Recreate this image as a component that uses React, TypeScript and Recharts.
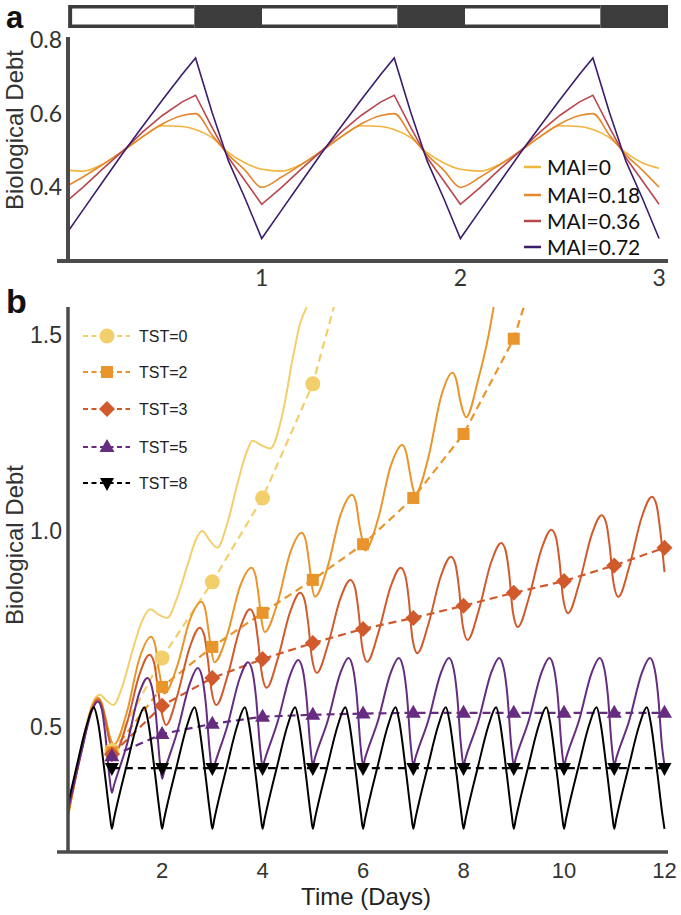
import React from "react";
import { BarChart, Bar, ComposedChart, LineChart, Line, XAxis, YAxis } from "recharts";

type Pt = [number, number];
type Shape = "circle" | "square" | "diamond" | "up" | "down";

// ---- panel a: three days of biological debt for four MAI values ----
const timeA = [
  0.025, 0.1, 0.2, 0.3, 0.4, 0.5, 0.6, 0.667, 0.75, 0.833, 0.917,
  1, 1.1, 1.2, 1.3, 1.4, 1.5, 1.6, 1.667, 1.75, 1.833, 1.917,
  2, 2.1, 2.2, 2.3, 2.4, 2.5, 2.6, 2.667, 2.75, 2.833, 2.917, 3,
];
const mai0 = [
  0.446, 0.444, 0.463, 0.498, 0.537, 0.567, 0.565, 0.557, 0.535, 0.494, 0.466,
  0.449, 0.444, 0.463, 0.498, 0.537, 0.567, 0.565, 0.557, 0.535, 0.494, 0.466,
  0.449, 0.444, 0.463, 0.498, 0.537, 0.567, 0.565, 0.557, 0.535, 0.494, 0.466, 0.452,
];
const mai018 = [
  0.405, 0.428, 0.462, 0.498, 0.537, 0.572, 0.595, 0.6, 0.542, 0.488, 0.446,
  0.4, 0.428, 0.462, 0.498, 0.537, 0.572, 0.595, 0.6, 0.542, 0.488, 0.446,
  0.4, 0.428, 0.462, 0.498, 0.537, 0.572, 0.595, 0.6, 0.542, 0.488, 0.446, 0.4,
];
const mai036 = [
  0.365, 0.4, 0.45, 0.498, 0.55, 0.595, 0.632, 0.65, 0.563, 0.48, 0.417,
  0.354, 0.4, 0.45, 0.498, 0.55, 0.595, 0.632, 0.65, 0.563, 0.48, 0.417,
  0.354, 0.4, 0.45, 0.498, 0.55, 0.595, 0.632, 0.65, 0.563, 0.48, 0.417, 0.354,
];
const mai072 = [
  0.28, 0.338, 0.415, 0.492, 0.565, 0.637, 0.707, 0.751, 0.604, 0.471, 0.369,
  0.261, 0.338, 0.415, 0.492, 0.565, 0.637, 0.707, 0.751, 0.604, 0.471, 0.369,
  0.261, 0.338, 0.415, 0.492, 0.565, 0.637, 0.707, 0.751, 0.604, 0.471, 0.369, 0.261,
];
const maiNames = ["MAI=0", "MAI=0.18", "MAI=0.36", "MAI=0.72"];
const maiColors = ["#F0B53F", "#E4882B", "#B9474E", "#3A1E6C"];

// light / dark bar above panel a: segment kinds and lengths (days)
const barKinds = ["pad", "light", "dark", "light", "dark", "light", "dark"];
const barLengths = [0.045, 0.622, 0.333, 0.667, 0.333, 0.667, 0.333];

// ---- panel b: solid model traces ----
const tst0Solid: Pt[] = [
  [0.13, 0.27], [0.4, 0.45], [0.6, 0.555], [0.76, 0.582], [0.9, 0.566], [1.03, 0.556],
  [1.2, 0.6], [1.4, 0.69], [1.6, 0.77], [1.76, 0.8], [1.95, 0.785], [2.1, 0.778],
  [2.3, 0.83], [2.5, 0.91], [2.68, 0.98], [2.8, 1.0], [2.95, 0.975], [3.1, 0.957],
  [3.3, 1.02], [3.5, 1.12], [3.68, 1.2], [3.8, 1.23], [3.98, 1.218], [4.15, 1.21],
  [4.4, 1.3], [4.6, 1.44], [4.75, 1.53], [4.88, 1.571],
];
const tst2Solid: Pt[] = [
  [0.13, 0.275], [0.4, 0.445], [0.6, 0.55], [0.72, 0.575], [0.8, 0.56], [0.88, 0.52], [0.96, 0.475], [1.04, 0.455],
  [1.3, 0.538], [1.55, 0.675], [1.78, 0.73], [1.86, 0.71], [1.93, 0.65], [1.98, 0.615], [2.04, 0.585],
  [2.3, 0.655], [2.55, 0.772], [2.78, 0.819], [2.86, 0.799], [2.93, 0.739], [2.98, 0.695], [3.04, 0.665],
  [3.3, 0.737], [3.55, 0.858], [3.78, 0.906], [3.86, 0.886], [3.93, 0.826], [3.98, 0.772], [4.04, 0.742],
  [4.3, 0.818], [4.55, 0.944], [4.78, 0.995], [4.86, 0.975], [4.93, 0.915], [4.98, 0.862], [5.04, 0.832],
  [5.3, 0.91], [5.55, 1.04], [5.78, 1.092], [5.86, 1.072], [5.93, 1.012], [5.98, 0.98], [6.04, 0.95],
  [6.3, 1.031], [6.55, 1.165], [6.78, 1.219], [6.86, 1.199], [6.93, 1.15], [6.98, 1.115], [7.04, 1.095],
  [7.3, 1.187], [7.55, 1.341], [7.78, 1.403], [7.86, 1.383], [7.93, 1.335], [7.99, 1.305], [8.05, 1.29],
  [8.3, 1.39], [8.5, 1.5], [8.6, 1.571],
];
const tst3Solid: Pt[] = [
  [0.13, 0.28], [0.4, 0.44], [0.6, 0.545], [0.72, 0.57], [0.8, 0.555], [0.88, 0.51], [0.96, 0.46], [1.06, 0.435],
  [1.3, 0.51], [1.55, 0.634], [1.75, 0.684], [1.84, 0.664], [1.91, 0.604], [1.98, 0.545], [2.08, 0.505],
  [2.3, 0.579], [2.55, 0.703], [2.75, 0.753], [2.84, 0.733], [2.91, 0.673], [2.98, 0.596], [3.08, 0.556],
  [3.3, 0.629], [3.55, 0.751], [3.75, 0.8], [3.84, 0.78], [3.91, 0.72], [3.98, 0.64], [4.08, 0.6],
  [4.3, 0.673], [4.55, 0.794], [4.75, 0.842], [4.84, 0.822], [4.91, 0.762], [4.98, 0.678], [5.08, 0.638],
  [5.3, 0.709], [5.55, 0.828], [5.75, 0.875], [5.84, 0.855], [5.91, 0.795], [5.98, 0.706], [6.08, 0.666],
  [6.3, 0.738], [6.55, 0.858], [6.75, 0.906], [6.84, 0.886], [6.91, 0.826], [6.98, 0.728], [7.08, 0.688],
  [7.3, 0.762], [7.55, 0.885], [7.75, 0.934], [7.84, 0.914], [7.91, 0.854], [7.98, 0.762], [8.08, 0.722],
  [8.3, 0.796], [8.55, 0.92], [8.75, 0.969], [8.84, 0.949], [8.91, 0.889], [8.98, 0.795], [9.08, 0.755],
  [9.3, 0.829], [9.55, 0.953], [9.75, 1.003], [9.84, 0.983], [9.91, 0.923], [9.98, 0.83], [10.08, 0.79],
  [10.3, 0.865], [10.55, 0.99], [10.75, 1.04], [10.84, 1.02], [10.91, 0.96], [10.98, 0.872], [11.08, 0.832],
  [11.3, 0.909], [11.55, 1.036], [11.75, 1.087], [11.84, 1.067], [11.91, 1.007], [12, 0.895],
];
const tst5Solid: Pt[] = [
  [0.13, 0.29], [0.4, 0.44], [0.6, 0.54], [0.72, 0.565], [0.8, 0.545], [0.87, 0.48], [0.95, 0.375], [1, 0.332],
  [1.04, 0.35], [1.3, 0.455], [1.55, 0.588], [1.71, 0.625], [1.8, 0.6], [1.87, 0.54], [1.95, 0.418], [2, 0.368],
  [2.04, 0.385], [2.3, 0.487], [2.55, 0.61], [2.71, 0.65], [2.8, 0.625], [2.87, 0.56], [2.95, 0.435], [3, 0.385],
  [3.04, 0.402], [3.3, 0.503], [3.55, 0.626], [3.71, 0.665], [3.8, 0.64], [3.87, 0.575], [3.95, 0.448], [4, 0.398],
  [4.04, 0.415], [4.3, 0.513], [4.55, 0.633], [4.71, 0.671], [4.8, 0.646], [4.87, 0.58], [4.95, 0.452], [5, 0.402],
  [5.04, 0.42], [5.3, 0.517], [5.55, 0.638], [5.71, 0.676], [5.8, 0.65], [5.87, 0.585], [5.95, 0.452], [6, 0.402],
  [6.04, 0.42], [6.3, 0.517], [6.55, 0.638], [6.71, 0.676], [6.8, 0.65], [6.87, 0.585], [6.95, 0.452], [7, 0.402],
  [7.04, 0.42], [7.3, 0.517], [7.55, 0.638], [7.71, 0.676], [7.8, 0.65], [7.87, 0.585], [7.95, 0.452], [8, 0.402],
  [8.04, 0.42], [8.3, 0.517], [8.55, 0.638], [8.71, 0.676], [8.8, 0.65], [8.87, 0.585], [8.95, 0.452], [9, 0.402],
  [9.04, 0.42], [9.3, 0.517], [9.55, 0.638], [9.71, 0.676], [9.8, 0.65], [9.87, 0.585], [9.95, 0.452], [10, 0.402],
  [10.04, 0.42], [10.3, 0.517], [10.55, 0.638], [10.71, 0.676], [10.8, 0.65], [10.87, 0.585], [10.95, 0.452], [11, 0.402],
  [11.04, 0.42], [11.3, 0.517], [11.55, 0.638], [11.71, 0.676], [11.8, 0.65], [11.87, 0.585], [11.95, 0.452], [12, 0.402],
];
const tst8Solid: Pt[] = [
  [0.13, 0.305], [0.3, 0.4], [0.5, 0.505], [0.64, 0.55], [0.72, 0.515], [0.86, 0.38], [0.96, 0.275],
  [1, 0.24], [1.04, 0.265], [1.3, 0.405], [1.5, 0.505], [1.65, 0.55], [1.72, 0.515], [1.86, 0.38], [1.96, 0.275],
  [2, 0.24], [2.04, 0.265], [2.3, 0.405], [2.5, 0.505], [2.65, 0.55], [2.72, 0.515], [2.86, 0.38], [2.96, 0.275],
  [3, 0.24], [3.04, 0.265], [3.3, 0.405], [3.5, 0.505], [3.65, 0.55], [3.72, 0.515], [3.86, 0.38], [3.96, 0.275],
  [4, 0.24], [4.04, 0.265], [4.3, 0.405], [4.5, 0.505], [4.65, 0.55], [4.72, 0.515], [4.86, 0.38], [4.96, 0.275],
  [5, 0.24], [5.04, 0.265], [5.3, 0.405], [5.5, 0.505], [5.65, 0.55], [5.72, 0.515], [5.86, 0.38], [5.96, 0.275],
  [6, 0.24], [6.04, 0.265], [6.3, 0.405], [6.5, 0.505], [6.65, 0.55], [6.72, 0.515], [6.86, 0.38], [6.96, 0.275],
  [7, 0.24], [7.04, 0.265], [7.3, 0.405], [7.5, 0.505], [7.65, 0.55], [7.72, 0.515], [7.86, 0.38], [7.96, 0.275],
  [8, 0.24], [8.04, 0.265], [8.3, 0.405], [8.5, 0.505], [8.65, 0.55], [8.72, 0.515], [8.86, 0.38], [8.96, 0.275],
  [9, 0.24], [9.04, 0.265], [9.3, 0.405], [9.5, 0.505], [9.65, 0.55], [9.72, 0.515], [9.86, 0.38], [9.96, 0.275],
  [10, 0.24], [10.04, 0.265], [10.3, 0.405], [10.5, 0.505], [10.65, 0.55], [10.72, 0.515], [10.86, 0.38], [10.96, 0.275],
  [11, 0.24], [11.04, 0.265], [11.3, 0.405], [11.5, 0.505], [11.65, 0.55], [11.72, 0.515], [11.86, 0.38], [11.96, 0.275],
  [12, 0.24],
];

// ---- panel b: dashed daily values (markers on whole days) ----
const tst0Days = [1, 2, 3, 4, 5, 5.42];
const tst0Mean = [0.44, 0.676, 0.87, 1.084, 1.375, 1.571];
const tst2Days = [1, 2, 3, 4, 5, 6, 7, 8, 9, 9.2];
const tst2Mean = [0.435, 0.602, 0.704, 0.791, 0.875, 0.966, 1.084, 1.247, 1.49, 1.571];
const tst3Days = [1, 2, 3, 4, 5, 6, 7, 8, 9, 10, 11, 12];
const tst3Mean = [0.43, 0.554, 0.625, 0.673, 0.714, 0.75, 0.778, 0.809, 0.842, 0.872, 0.912, 0.957];
const tst5Days = [1, 2, 3, 4, 5, 6, 7, 8, 9, 10, 11, 12];
const tst5Mean = [0.425, 0.482, 0.508, 0.526, 0.531, 0.534, 0.536, 0.536, 0.536, 0.536, 0.536, 0.536];
const tst8Days = [1, 2, 3, 4, 5, 6, 7, 8, 9, 10, 11, 12];
const tst8Mean = [0.395, 0.395, 0.395, 0.395, 0.395, 0.395, 0.395, 0.395, 0.395, 0.395, 0.395, 0.395];

const AXIS = "#4b4b4b";
const BAR_DARK = "#3c3c3c";
const SANS = "'Liberation Sans', Arial, sans-serif";
const GILL = "Lato, 'Noto Sans', sans-serif";

function Marker({ shape, x, y, color }: { shape: Shape; x: number; y: number; color: string }) {
  if (shape === "circle") return <circle cx={x} cy={y} r={7.5} fill={color} />;
  if (shape === "square") return <rect x={x - 6} y={y - 6} width={12} height={12} fill={color} />;
  if (shape === "diamond")
    return <polygon points={`${x},${y - 8} ${x + 8},${y} ${x},${y + 8} ${x - 8},${y}`} fill={color} />;
  if (shape === "up")
    return <polygon points={`${x},${y - 8} ${x + 7.5},${y + 5} ${x - 7.5},${y + 5}`} fill={color} />;
  return <polygon points={`${x},${y + 8} ${x + 7},${y - 5} ${x - 7},${y - 5}`} fill={color} />;
}

const seriesB = [
  { name: "TST=0", color: "#F3CF6C", shape: "circle" as Shape, solid: tst0Solid, days: tst0Days, mean: tst0Mean },
  { name: "TST=2", color: "#E9952B", shape: "square" as Shape, solid: tst2Solid, days: tst2Days, mean: tst2Mean },
  { name: "TST=3", color: "#D05A2C", shape: "diamond" as Shape, solid: tst3Solid, days: tst3Days, mean: tst3Mean },
  { name: "TST=5", color: "#652C80", shape: "up" as Shape, solid: tst5Solid, days: tst5Days, mean: tst5Mean },
  { name: "TST=8", color: "#000000", shape: "down" as Shape, solid: tst8Solid, days: tst8Days, mean: tst8Mean },
];

const dotFor = (shape: Shape, color: string) => (p: any) => {
  const key = `m-${p.index}`;
  if (!Number.isInteger(p.payload?.t)) return <g key={key} />;
  return <Marker key={key} shape={shape} x={p.cx} y={p.cy} color={color} />;
};

// light segments get a white inner box, dark ones stay solid
const segShape = (kind: string, first: boolean) => (p: any) => {
  const { x, y, width, height } = p;
  if (kind === "pad" || !width) return <g />;
  const inset = first ? 4 : 0;
  return (
    <g>
      <rect x={x} y={y} width={width} height={height} fill={BAR_DARK} />
      {kind === "light" && (
        <rect x={x + inset} y={y + 3.5} width={width - inset} height={height - 7} fill="#ffffff" />
      )}
    </g>
  );
};

export default function App() {
  const dataA = timeA.map((t, i) => ({ t, m0: mai0[i], m1: mai018[i], m2: mai036[i], m3: mai072[i] }));
  const barRow: Record<string, number | string> = { row: "LD" };
  barLengths.forEach((v, i) => {
    barRow[`s${i}`] = v;
  });
  const legendARows = [167, 195, 221, 247];
  const legendBRows = [336, 372, 409, 447, 483];

  return (
    <div style={{ position: "absolute", left: 0, top: 0, width: 681, height: 915, background: "#fff", overflow: "hidden" }}>
      {/* panel a */}
      <div style={{ position: "absolute", left: 0, top: 0 }}>
        <LineChart width={681} height={300} data={dataA} margin={{ top: 37, right: 13, bottom: 9, left: 8 }}>
          <XAxis
            dataKey="t"
            type="number"
            domain={[0.025, 3.045]}
            ticks={[1, 2, 3]}
            axisLine={{ stroke: AXIS, strokeWidth: 4 }}
            tickLine={false}
            tickSize={0}
            tickMargin={9}
            tick={{ fontSize: 23, fill: "#333", fontFamily: GILL }}
          />
          <YAxis
            type="number"
            domain={[0.2, 0.808]}
            ticks={[0.4, 0.6, 0.8]}
            tickFormatter={(v: number) => v.toFixed(1)}
            axisLine={{ stroke: AXIS, strokeWidth: 4 }}
            tickLine={false}
            tickSize={0}
            tickMargin={6}
            width={60}
            tick={{ fontSize: 23, fill: "#333", fontFamily: GILL }}
          />
          <Line dataKey="m0" type="monotone" stroke={maiColors[0]} strokeWidth={1.6} dot={false} isAnimationActive={false} />
          <Line dataKey="m1" type="monotone" stroke={maiColors[1]} strokeWidth={1.6} dot={false} isAnimationActive={false} />
          <Line dataKey="m2" type="linear" stroke={maiColors[2]} strokeWidth={1.6} dot={false} isAnimationActive={false} />
          <Line dataKey="m3" type="linear" stroke={maiColors[3]} strokeWidth={1.6} dot={false} isAnimationActive={false} />
        </LineChart>
      </div>

      {/* light / dark bar */}
      <div style={{ position: "absolute", left: 0, top: 0 }}>
        <BarChart
          layout="vertical"
          width={681}
          height={34}
          data={[barRow]}
          margin={{ top: 5, right: 13, bottom: 6, left: 59 }}
          barCategoryGap={0}
        >
          <XAxis type="number" domain={[0, 3]} height={0} tick={false} axisLine={false} tickLine={false} />
          <YAxis type="category" dataKey="row" width={0} tick={false} axisLine={false} tickLine={false} />
          {barKinds.map((k, i) => (
            <Bar key={i} dataKey={`s${i}`} stackId="ld" shape={segShape(k, i === 1)} isAnimationActive={false} />
          ))}
        </BarChart>
      </div>

      {/* panel b */}
      <div style={{ position: "absolute", left: 0, top: 300 }}>
        <ComposedChart width={681} height={615} margin={{ top: 7, right: 13, bottom: 33, left: 8 }}>
          <XAxis
            dataKey="t"
            type="number"
            domain={[0.127, 12.07]}
            ticks={[2, 4, 6, 8, 10, 12]}
            axisLine={{ stroke: AXIS, strokeWidth: 3.5 }}
            tickLine={false}
            tickSize={0}
            tickMargin={10}
            tick={{ fontSize: 22, fill: "#333", fontFamily: SANS }}
          />
          <YAxis
            type="number"
            domain={[0.181, 1.571]}
            ticks={[0.5, 1.0, 1.5]}
            tickFormatter={(v: number) => v.toFixed(1)}
            axisLine={{ stroke: AXIS, strokeWidth: 3.5 }}
            tickLine={false}
            tickSize={0}
            tickMargin={6}
            width={60}
            tick={{ fontSize: 23, fill: "#333", fontFamily: SANS }}
          />
          {seriesB.map((s) => [
            <Line
              key={s.name + "-solid"}
              data={s.solid.map(([t, v]) => ({ t, v }))}
              dataKey="v"
              type="monotone"
              stroke={s.color}
              strokeWidth={2}
              dot={false}
              isAnimationActive={false}
            />,
            <Line
              key={s.name + "-dash"}
              data={s.days.map((t, i) => ({ t, v: s.mean[i] }))}
              dataKey="v"
              type="linear"
              stroke={s.color}
              strokeWidth={2.2}
              strokeDasharray="8 5"
              dot={dotFor(s.shape, s.color)}
              isAnimationActive={false}
            />,
          ])}
        </ComposedChart>
      </div>

      {/* labels, legends and the short axis stubs */}
      <svg width={681} height={915} style={{ position: "absolute", left: 0, top: 0, pointerEvents: "none" }}>
        <line x1={57} x2={68} y1={261} y2={261} stroke={AXIS} strokeWidth={4} />
        <line x1={57} x2={68} y1={852} y2={852} stroke={AXIS} strokeWidth={3.5} />
        <text x={6} y={28} fontFamily={SANS} fontWeight="bold" fontSize={31} fill="#111">a</text>
        <text x={6} y={313} fontFamily={SANS} fontWeight="bold" fontSize={34} fill="#111">b</text>
        <text transform="translate(23,130) rotate(-90)" textAnchor="middle" fontFamily={SANS} fontSize={24} fill="#333">
          Biological Debt
        </text>
        <text transform="translate(23,545) rotate(-90)" textAnchor="middle" fontFamily={SANS} fontSize={24} fill="#333">
          Biological Debt
        </text>
        <text x={366} y={905} textAnchor="middle" fontFamily={SANS} fontSize={24} fill="#222">
          Time (Days)
        </text>
        {maiNames.map((n, i) => (
          <g key={n}>
            <line x1={524} x2={541} y1={legendARows[i]} y2={legendARows[i]} stroke={maiColors[i]} strokeWidth={2.5} />
            <text x={547} y={legendARows[i] + 8} fontFamily={GILL} fontSize={21} fill="#111">
              {n}
            </text>
          </g>
        ))}
        {seriesB.map((s, i) => (
          <g key={s.name}>
            <line x1={83} x2={130} y1={legendBRows[i]} y2={legendBRows[i]} stroke={s.color} strokeWidth={2} strokeDasharray="5 3.5" />
            <Marker shape={s.shape} x={107} y={legendBRows[i]} color={s.color} />
            <text x={139} y={legendBRows[i] + 6} fontFamily={SANS} fontSize={16} fill="#222">
              {s.name}
            </text>
          </g>
        ))}
      </svg>
    </div>
  );
}
